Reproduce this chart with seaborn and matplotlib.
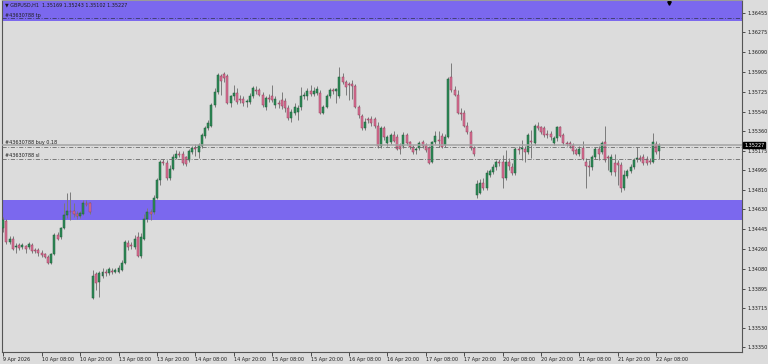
import matplotlib
matplotlib.use("Agg")
import matplotlib.pyplot as plt
import matplotlib.transforms as mtransforms
from matplotlib import font_manager as fm
import numpy as np
import pandas as pd
import seaborn as sns

# ---------------- data ----------------
symbol = "GBPUSD,H1"
order_id = "#43630788"
order_side = "buy 0.18"

opens = [
    1.3446, 1.3452, 1.3433, 1.3436, 1.3428, 1.3430, 1.3428, 1.3429, 1.3428, 1.3430,
    1.3425, 1.3425, 1.3423, 1.3422, 1.3419, 1.3413, 1.3422, 1.3439, 1.3437, 1.3446,
    1.3458, 1.3462, 1.3462, 1.3459, 1.3457, 1.3459, 1.3469, 1.3469,
    1.3381, 1.3403, 1.3396, 1.3401, 1.3405, 1.3404, 1.3406, 1.3405, 1.3405, 1.3407,
    1.3413, 1.3432, 1.3430, 1.3428, 1.3437, 1.3420, 1.3436, 1.3454, 1.3461, 1.3461,
    1.3474, 1.3490, 1.3507, 1.3506, 1.3492, 1.3501, 1.3511, 1.3515, 1.3515, 1.3512,
    1.3509, 1.3516, 1.3520, 1.3516, 1.3522, 1.3531, 1.3539, 1.3541, 1.3560, 1.3572,
    1.3587, 1.3589, 1.3587, 1.3562, 1.3568, 1.3571, 1.3566, 1.3566, 1.3563, 1.3563,
    1.3568, 1.3574, 1.3574, 1.3569, 1.3558, 1.3567, 1.3568, 1.3560, 1.3562, 1.3565,
    1.3564, 1.3557, 1.3548, 1.3553, 1.3554, 1.3558, 1.3568, 1.3568, 1.3573, 1.3570,
    1.3571, 1.3571, 1.3553, 1.3558, 1.3568, 1.3574, 1.3573, 1.3568, 1.3586, 1.3581,
    1.3580, 1.3580, 1.3578, 1.3558, 1.3550, 1.3539, 1.3547, 1.3547, 1.3547, 1.3541,
    1.3522, 1.3539, 1.3525, 1.3526, 1.3532, 1.3530, 1.3523, 1.3522, 1.3532, 1.3526,
    1.3521, 1.3518, 1.3520, 1.3526, 1.3523, 1.3520, 1.3507, 1.3526, 1.3528, 1.3531,
    1.3523, 1.3530, 1.3586, 1.3574, 1.3569, 1.3553, 1.3553, 1.3541, 1.3535, 1.3520,
    1.3476, 1.3478, 1.3488, 1.3483, 1.3495, 1.3498, 1.3502, 1.3507, 1.3507, 1.3492,
    1.3507, 1.3502, 1.3497, 1.3519, 1.3519, 1.3519, 1.3516, 1.3527, 1.3525, 1.3541,
    1.3540, 1.3539, 1.3533, 1.3533, 1.3525, 1.3529, 1.3540, 1.3532, 1.3525, 1.3525,
    1.3523, 1.3518, 1.3515, 1.3520, 1.3507, 1.3503, 1.3502, 1.3512, 1.3519, 1.3516,
    1.3526, 1.3512, 1.3498, 1.3506, 1.3506, 1.3504, 1.3483, 1.3494, 1.3499, 1.3502,
    1.3510, 1.3511, 1.3512, 1.3510, 1.3508, 1.3507, 1.3524, 1.35169,
]
highs = [
    1.3456, 1.3454, 1.3438, 1.3438, 1.3432, 1.3432, 1.3432, 1.3430, 1.3433, 1.3432,
    1.3427, 1.3427, 1.3425, 1.3423, 1.3421, 1.3423, 1.3441, 1.3442, 1.3447, 1.3469,
    1.3478, 1.3479, 1.3469, 1.3462, 1.3462, 1.3472, 1.3472, 1.3470,
    1.3407, 1.3405, 1.3406, 1.3409, 1.3408, 1.3410, 1.3409, 1.3409, 1.3411, 1.3416,
    1.3435, 1.3435, 1.3433, 1.3439, 1.3442, 1.3441, 1.3459, 1.3464, 1.3463, 1.3476,
    1.3492, 1.3509, 1.3510, 1.3509, 1.3504, 1.3515, 1.3518, 1.3517, 1.3517, 1.3513,
    1.3519, 1.3522, 1.3524, 1.3525, 1.3534, 1.3541, 1.3546, 1.3562, 1.3576, 1.3590,
    1.3589, 1.3591, 1.3589, 1.3569, 1.3579, 1.3576, 1.3569, 1.3568, 1.3566, 1.3571,
    1.3578, 1.3578, 1.3576, 1.3572, 1.3568, 1.3570, 1.3579, 1.3568, 1.3565, 1.3572,
    1.3567, 1.3560, 1.3556, 1.3562, 1.3560, 1.3577, 1.3572, 1.3576, 1.3579, 1.3577,
    1.3578, 1.3574, 1.3560, 1.3570, 1.3576, 1.3576, 1.3576, 1.3595, 1.3590, 1.3583,
    1.3581, 1.3583, 1.3580, 1.3560, 1.3552, 1.3548, 1.3549, 1.3550, 1.3549, 1.3544,
    1.3541, 1.3541, 1.3532, 1.3534, 1.3536, 1.3533, 1.3525, 1.3535, 1.3534, 1.3527,
    1.3523, 1.3521, 1.3527, 1.3528, 1.3525, 1.3522, 1.3527, 1.3536, 1.3536, 1.3534,
    1.3533, 1.3586, 1.3599, 1.3578, 1.3574, 1.3557, 1.3555, 1.3544, 1.3537, 1.3522,
    1.3490, 1.3491, 1.3492, 1.3500, 1.3501, 1.3505, 1.3509, 1.3510, 1.3514, 1.3518,
    1.3511, 1.3506, 1.3521, 1.3522, 1.3528, 1.3522, 1.3534, 1.3537, 1.3542, 1.3544,
    1.3541, 1.3541, 1.3537, 1.3536, 1.3531, 1.3541, 1.3541, 1.3534, 1.3527, 1.3527,
    1.3525, 1.3520, 1.3522, 1.3527, 1.3511, 1.3509, 1.3514, 1.3521, 1.3522, 1.3527,
    1.3541, 1.3514, 1.3515, 1.3515, 1.3509, 1.3507, 1.3500, 1.3501, 1.3505, 1.3511,
    1.3521, 1.3514, 1.3515, 1.3513, 1.3511, 1.3534, 1.3527, 1.35243,
]
lows = [
    1.3442, 1.3431, 1.3431, 1.3425, 1.3423, 1.3425, 1.3426, 1.3423, 1.3426, 1.3423,
    1.3423, 1.3420, 1.3419, 1.3418, 1.3412, 1.3412, 1.3421, 1.3435, 1.3436, 1.3445,
    1.3455, 1.3453, 1.3456, 1.3454, 1.3455, 1.3458, 1.3466, 1.3459,
    1.3380, 1.3388, 1.3382, 1.3399, 1.3401, 1.3402, 1.3403, 1.3404, 1.3404, 1.3406,
    1.3412, 1.3425, 1.3426, 1.3426, 1.3419, 1.3418, 1.3435, 1.3451, 1.3453, 1.3459,
    1.3473, 1.3486, 1.3504, 1.3490, 1.3490, 1.3500, 1.3510, 1.3512, 1.3504, 1.3503,
    1.3507, 1.3515, 1.3513, 1.3511, 1.3520, 1.3529, 1.3537, 1.3540, 1.3558, 1.3570,
    1.3569, 1.3581, 1.3561, 1.3558, 1.3565, 1.3561, 1.3562, 1.3559, 1.3558, 1.3561,
    1.3567, 1.3570, 1.3568, 1.3558, 1.3555, 1.3563, 1.3563, 1.3557, 1.3557, 1.3556,
    1.3554, 1.3546, 1.3544, 1.3551, 1.3546, 1.3555, 1.3566, 1.3565, 1.3568, 1.3568,
    1.3569, 1.3552, 1.3552, 1.3557, 1.3567, 1.3570, 1.3562, 1.3567, 1.3580, 1.3569,
    1.3565, 1.3566, 1.3557, 1.3548, 1.3537, 1.3537, 1.3543, 1.3541, 1.3539, 1.3520,
    1.3520, 1.3528, 1.3522, 1.3524, 1.3526, 1.3518, 1.3515, 1.3520, 1.3523, 1.3519,
    1.3515, 1.3515, 1.3518, 1.3520, 1.3516, 1.3505, 1.3506, 1.3524, 1.3521, 1.3520,
    1.3521, 1.3529, 1.3572, 1.3568, 1.3552, 1.3546, 1.3540, 1.3533, 1.3518, 1.3513,
    1.3474, 1.3477, 1.3481, 1.3481, 1.3493, 1.3496, 1.3500, 1.3503, 1.3483, 1.3490,
    1.3500, 1.3495, 1.3495, 1.3515, 1.3509, 1.3507, 1.3515, 1.3511, 1.3523, 1.3537,
    1.3533, 1.3530, 1.3529, 1.3528, 1.3523, 1.3527, 1.3530, 1.3523, 1.3522, 1.3520,
    1.3515, 1.3514, 1.3513, 1.3509, 1.3483, 1.3494, 1.3500, 1.3510, 1.3509, 1.3515,
    1.3507, 1.3500, 1.3495, 1.3494, 1.3486, 1.3479, 1.3481, 1.3492, 1.3497, 1.3501,
    1.3507, 1.3508, 1.3504, 1.3504, 1.3505, 1.3506, 1.3515, 1.35102,
]
closes = [
    1.3453, 1.3433, 1.3436, 1.3426, 1.3429, 1.3427, 1.3430, 1.3426, 1.3431, 1.3424,
    1.3424, 1.3423, 1.3421, 1.3419, 1.3413, 1.3422, 1.3439, 1.3436, 1.3446, 1.3458,
    1.3462, 1.3461, 1.3459, 1.3457, 1.3460, 1.3469, 1.3467, 1.3461,
    1.3401, 1.3395, 1.3404, 1.3405, 1.3404, 1.3408, 1.3405, 1.3407, 1.3409, 1.3413,
    1.3433, 1.3428, 1.3429, 1.3436, 1.3420, 1.3437, 1.3454, 1.3461, 1.3459, 1.3474,
    1.3490, 1.3507, 1.3506, 1.3492, 1.3501, 1.3512, 1.3515, 1.3514, 1.3506, 1.3505,
    1.3517, 1.3520, 1.3519, 1.3523, 1.3532, 1.3539, 1.3543, 1.3560, 1.3572, 1.3588,
    1.3582, 1.3585, 1.3562, 1.3568, 1.3571, 1.3563, 1.3565, 1.3562, 1.3564, 1.3568,
    1.3576, 1.3573, 1.3569, 1.3560, 1.3567, 1.3566, 1.3565, 1.3566, 1.3561, 1.3559,
    1.3557, 1.3548, 1.3554, 1.3558, 1.3557, 1.3568, 1.3569, 1.3573, 1.3570, 1.3573,
    1.3575, 1.3553, 1.3558, 1.3568, 1.3574, 1.3573, 1.3575, 1.3586, 1.3581, 1.3577,
    1.3579, 1.3578, 1.3558, 1.3551, 1.3539, 1.3544, 1.3546, 1.3543, 1.3541, 1.3522,
    1.3539, 1.3530, 1.3530, 1.3532, 1.3527, 1.3519, 1.3519, 1.3532, 1.3525, 1.3521,
    1.3516, 1.3519, 1.3525, 1.3522, 1.3518, 1.3506, 1.3526, 1.3531, 1.3527, 1.3521,
    1.3530, 1.3584, 1.3574, 1.3569, 1.3553, 1.3552, 1.3541, 1.3535, 1.3520, 1.3515,
    1.3487, 1.3488, 1.3483, 1.3497, 1.3499, 1.3502, 1.3507, 1.3506, 1.3492, 1.3507,
    1.3503, 1.3497, 1.3519, 1.3518, 1.3520, 1.3516, 1.3532, 1.3526, 1.3541, 1.3539,
    1.3535, 1.3532, 1.3532, 1.3530, 1.3529, 1.3540, 1.3531, 1.3525, 1.3524, 1.3522,
    1.3517, 1.3515, 1.3519, 1.3510, 1.3503, 1.3502, 1.3512, 1.3519, 1.3515, 1.3525,
    1.3509, 1.3511, 1.3512, 1.3498, 1.3504, 1.3483, 1.3495, 1.3499, 1.3502, 1.3509,
    1.3511, 1.3510, 1.3506, 1.3506, 1.3507, 1.3526, 1.3516, 1.35227,
]

time_labels = [
    "9 Apr 2026", "10 Apr 08:00", "10 Apr 20:00", "13 Apr 08:00", "13 Apr 20:00",
    "14 Apr 08:00", "14 Apr 20:00", "15 Apr 08:00", "15 Apr 20:00", "16 Apr 08:00",
    "16 Apr 20:00", "17 Apr 08:00", "17 Apr 20:00", "20 Apr 08:00", "20 Apr 20:00",
    "21 Apr 08:00", "21 Apr 20:00", "22 Apr 08:00",
]
label_step = 12

price_ticks = [1.36455, 1.36275, 1.36090, 1.35905, 1.35725, 1.35540, 1.35360,
               1.35175, 1.34995, 1.34810, 1.34630, 1.34445, 1.34260, 1.34080,
               1.33895, 1.33715, 1.33530, 1.33350]

tp_level = 1.3641
entry_level = 1.3521
sl_level = 1.3510
zone_upper = (1.3638, 1.3657)
zone_lower = (1.3453, 1.3472)

assert len(opens) == len(highs) == len(lows) == len(closes), (
    len(opens), len(highs), len(lows), len(closes))

# ---------------- style ----------------
sns.set_theme(style="white")
available = {f.name for f in fm.fontManager.ttflist}
FONT = "Liberation Sans Narrow" if "Liberation Sans Narrow" in available else "DejaVu Sans"
plt.rcParams["font.family"] = [FONT, "DejaVu Sans"]
FS = 4.3 if FONT != "DejaVu Sans" else 3.5

BG = "#dcdcdc"
ZONE = "#7b68ee"
BULL, BULL_EDGE = "#2e8b57", "#1d5a38"
BEAR, BEAR_EDGE = "#db7093", "#8e3d5c"
WICK = "#7a7a7a"
TEXT = "#1e1e1e"

df = pd.DataFrame({"open": opens, "high": highs, "low": lows, "close": closes})
df["bar"] = np.arange(len(df))
df["bull"] = df["close"] >= df["open"]
df["body_lo"] = df[["open", "close"]].min(axis=1)
df["body_h"] = (df["close"] - df["open"]).abs().clip(lower=0.00003)

fig = plt.figure(figsize=(7.68, 3.64), dpi=100, facecolor=BG)
ax = fig.add_axes([2 / 768, 12 / 364, 740 / 768, 352 / 364], facecolor=BG)

# zones
ax.axhspan(*zone_upper, color=ZONE, lw=0, zorder=0.5)
ax.axhspan(*zone_lower, color=ZONE, lw=0, zorder=0.5)

# candles
ax.vlines(df["bar"], df["low"], df["high"], color=WICK, lw=0.7, zorder=2)
for is_bull, face, edge in [(True, BULL, BULL_EDGE), (False, BEAR, BEAR_EDGE)]:
    sub = df[df["bull"] == is_bull]
    ax.bar(sub["bar"], sub["body_h"], bottom=sub["body_lo"], width=0.62,
           color=face, edgecolor=edge, lw=0.35, zorder=3)

# order lines
bid = closes[-1]
dashdot = (0, (5, 2, 1, 2))
ax.axhline(tp_level, color="#3a3a60", lw=0.6, ls=dashdot, zorder=4)
ax.axhline(bid, color="#a4a4a4", lw=1.1, zorder=4)
ax.axhline(entry_level, color="#6a6a6a", lw=0.6, ls=dashdot, zorder=4)
ax.axhline(sl_level, color="#6a6a6a", lw=0.6, ls=dashdot, zorder=4)

ax.text(0.6, tp_level + 0.00002, f"{order_id} tp", fontsize=FS, color=TEXT,
        va="bottom", ha="left", zorder=6)
ax.text(0.6, bid + 0.00002, f"{order_id} {order_side}", fontsize=FS, color=TEXT,
        va="bottom", ha="left", zorder=6)
ax.text(0.6, sl_level + 0.00004, f"{order_id} sl", fontsize=FS, color=TEXT,
        va="bottom", ha="left", zorder=6)

# header
header = (f"\u25BC {symbol}  {opens[-1]:.5f} {highs[-1]:.5f} "
          f"{lows[-1]:.5f} {closes[-1]:.5f}")
ax.text(0.004, 0.986, header, transform=ax.transAxes, fontsize=FS, color=TEXT,
        va="center", ha="left", zorder=6)

# chart shift marker
trans_xa = mtransforms.blended_transform_factory(ax.transData, ax.transAxes)
ax.plot([len(df) + 2], [0.991], marker="v", color="black", ms=2.5,
        transform=trans_xa, clip_on=False, zorder=7)

# axes
ax.set_xlim(-0.4, 230.8)
ax.set_ylim(1.33306, 1.36576)
ax.set_xticks(df["bar"].iloc[::label_step])
ax.set_xticklabels(time_labels)
for lbl in ax.get_xticklabels():
    lbl.set_ha("left")
ax.yaxis.tick_right()
ax.set_yticks(price_ticks)
ax.set_yticklabels([f"{v:.5f}" for v in price_ticks])
ax.tick_params(axis="x", direction="out", length=3, width=0.6, color="#333333",
               pad=0.8, labelsize=FS, labelcolor=TEXT, bottom=True)
ax.tick_params(axis="y", direction="out", length=2.5, width=0.6, color="#333333",
               pad=1.2, labelsize=FS, labelcolor=TEXT, right=True, left=False)
for s in ax.spines.values():
    s.set_color("#555555")
    s.set_linewidth(0.8)
ax.spines["top"].set_color("#9a9a9a")

# current price box
trans_ay = mtransforms.blended_transform_factory(ax.transAxes, ax.transData)
ax.text(1.003, bid, f"{bid:.5f}", transform=trans_ay, color="white", fontsize=FS,
        va="center", ha="left", zorder=10, clip_on=False,
        bbox=dict(boxstyle="square,pad=0.15", fc="black", ec="black"))

fig.savefig("out.png", dpi=100, facecolor=BG)
